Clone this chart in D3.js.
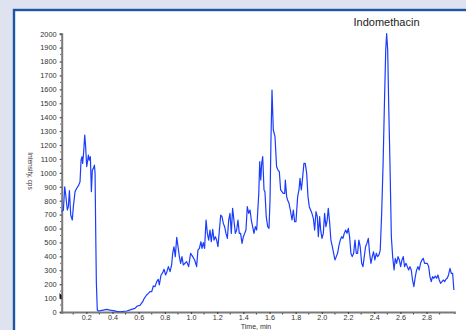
<!DOCTYPE html>
<html>
<head>
<meta charset="utf-8">
<script src="https://cdn.jsdelivr.net/npm/d3@7"></script>
<style>
  html, body { margin: 0; padding: 0; background: #dfe3f0; }
  svg { display: block; }
</style>
</head>
<body>
<svg id="chart" width="466" height="330"></svg>
<script>
// Extracted ion chromatogram: retention time (min) vs intensity (cps)
const title = "Indomethacin";
const xLabel = "Time, min";
const yLabel = "Intensity, cps";

const times = [
  0.012,0.025,0.035,0.043,0.055,0.063,0.071,0.081,0.093,0.101,0.114,0.127,0.142,0.152,0.160,0.167,0.172,0.180,0.188,0.195,
  0.203,0.211,0.216,0.223,0.231,0.239,0.246,0.254,0.262,0.267,0.272,0.277,0.284,0.292,0.330,0.356,0.381,0.407,0.432,0.458,
  0.509,0.547,0.572,0.590,0.610,0.631,0.643,0.661,0.674,0.687,0.700,0.712,0.725,0.738,0.750,0.758,0.771,0.784,0.794,0.806,
  0.814,0.827,0.840,0.852,0.860,0.870,0.880,0.891,0.901,0.911,0.921,0.931,0.941,0.954,0.967,0.982,0.997,1.013,1.028,1.043,
  1.053,1.064,1.076,1.084,1.094,1.104,1.115,1.125,1.135,1.145,1.155,1.166,1.176,1.186,1.196,1.206,1.217,1.227,1.237,1.247,
  1.257,1.267,1.278,1.288,1.298,1.308,1.318,1.328,1.339,1.349,1.359,1.369,1.379,1.390,1.400,1.410,1.420,1.430,1.441,1.451,
  1.461,1.471,1.481,1.492,1.502,1.518,1.525,1.533,1.540,1.548,1.558,1.565,1.575,1.586,1.596,1.604,1.611,1.619,1.629,1.642,
  1.654,1.665,1.675,1.685,1.695,1.705,1.716,1.721,1.731,1.738,1.749,1.759,1.772,1.782,1.792,1.802,1.815,1.825,1.833,1.843,
  1.851,1.863,1.873,1.884,1.894,1.904,1.914,1.924,1.935,1.945,1.955,1.965,1.973,1.983,1.991,2.001,2.011,2.021,2.031,2.041,
  2.049,2.059,2.069,2.080,2.090,2.100,2.110,2.120,2.131,2.141,2.151,2.161,2.171,2.182,2.192,2.202,2.212,2.222,2.232,2.243,
  2.253,2.263,2.273,2.283,2.293,2.304,2.314,2.324,2.334,2.344,2.355,2.365,2.375,2.385,2.395,2.405,2.416,2.426,2.436,2.446,
  2.457,2.468,2.477,2.488,2.495,2.503,2.511,2.521,2.531,2.541,2.552,2.561,2.571,2.582,2.592,2.602,2.612,2.622,2.632,2.643,
  2.653,2.663,2.673,2.683,2.693,2.703,2.714,2.724,2.734,2.744,2.754,2.765,2.775,2.785,2.795,2.805,2.816,2.826,2.836,2.846,
  2.856,2.867,2.877,2.887,2.897,2.907,2.918,2.928,2.938,2.948,2.958,2.968,2.979,2.989,2.999,3.009
];

const intensity = [
  721,733,900,841,733,757,872,697,661,757,865,889,912,936,1092,1116,1068,1152,1272,1188,
  1044,1092,1128,1092,1116,865,1020,1032,1056,996,565,206,14,7,14,19,14,10,5,2,
  7,19,26,43,48,74,98,122,134,146,146,187,182,218,235,194,266,283,307,266,
  283,326,290,338,422,469,398,536,469,398,350,398,338,350,362,326,422,398,374,326,
  445,457,505,457,498,457,661,565,517,589,505,594,517,541,517,469,589,697,685,637,
  613,565,529,661,709,565,745,661,565,589,661,565,565,493,541,565,589,757,709,733,
  661,613,565,613,589,853,1080,948,1068,1116,877,865,685,613,601,805,1236,1595,1308,1260,
  1044,1020,1008,877,865,853,853,948,829,805,781,733,661,733,649,649,829,877,960,877,
  948,1068,1068,996,829,757,733,709,673,589,721,685,541,685,589,529,565,709,613,661,
  745,649,517,469,422,374,398,422,481,517,541,529,565,589,565,601,541,422,398,422,
  517,422,422,517,469,350,326,398,469,493,529,422,350,398,433,374,422,398,410,445,
  709,1068,1451,1882,2000,1882,1475,1044,541,398,302,386,350,398,374,326,374,398,326,350,
  326,302,326,302,230,182,254,302,326,302,350,374,386,350,350,350,326,254,218,254,
  242,259,242,266,230,206,218,230,218,235,242,266,314,278,278,158
];

const yTicks = d3.range(0, 2001, 100);
const xTicks = [0.2,0.4,0.6,0.8,1.0,1.2,1.4,1.6,1.8,2.0,2.2,2.4,2.6,2.8];

const svg = d3.select("#chart");

// Framed white panel with a blue edge
svg.append("rect").attr("x", 14).attr("y", 10).attr("width", 460).attr("height", 330)
  .attr("fill", "#ffffff").attr("stroke", "#1f55a5").attr("stroke-width", 2.4);

const x = d3.scaleLinear().domain([0.012, 3.012]).range([61.7, 454.3]);
const y = d3.scaleLinear().domain([0, 2000]).range([312, 33.7]);

const tickFont = "'Liberation Sans', Arial, sans-serif";

// Y axis
const yAxis = svg.append("g").attr("transform", "translate(61.7,0)")
  .call(d3.axisLeft(y).tickValues(yTicks).tickSize(2).tickPadding(3).tickFormat(d3.format("d")));
yAxis.select(".domain").attr("stroke", "#7a7a7a").attr("stroke-width", 2);
yAxis.selectAll(".tick line").attr("stroke", "#444").attr("stroke-width", 1.2);
yAxis.selectAll(".tick text").attr("font-family", tickFont).attr("font-size", 7.4).attr("fill", "#333");

// minor y ticks
svg.append("g").selectAll("line").data(d3.range(50, 2000, 100)).join("line")
  .attr("x1", 60.2).attr("x2", 61).attr("y1", d => y(d)).attr("y2", d => y(d))
  .attr("stroke", "#444").attr("stroke-width", 1);

// X axis
const xAxis = svg.append("g").attr("transform", "translate(0,312)")
  .call(d3.axisBottom(x).tickValues(xTicks).tickSize(2).tickPadding(1).tickFormat(d3.format(".1f")));
xAxis.select(".domain").attr("stroke", "#7a7a7a").attr("stroke-width", 2);
xAxis.selectAll(".tick line").attr("stroke", "#444").attr("stroke-width", 1.2);
xAxis.selectAll(".tick text").attr("font-family", tickFont).attr("font-size", 7.2).attr("fill", "#333");

// minor x ticks
svg.append("g").selectAll("line").data(d3.range(0.1, 3.0, 0.2)).join("line")
  .attr("x1", d => x(d)).attr("x2", d => x(d)).attr("y1", 313).attr("y2", 314.5)
  .attr("stroke", "#444").attr("stroke-width", 1);

// Axis titles
svg.append("text").attr("x", 256).attr("y", 328.6).attr("text-anchor", "middle")
  .attr("font-family", tickFont).attr("font-size", 7).attr("fill", "#333").text(xLabel);
svg.append("text").attr("transform", "translate(27.5,171) rotate(90)").attr("text-anchor", "middle")
  .attr("font-family", tickFont).attr("font-size", 6.5).attr("fill", "#333").text(yLabel);

// Title
svg.append("text").attr("x", 386.5).attr("y", 25.5).attr("text-anchor", "middle")
  .attr("font-family", tickFont).attr("font-size", 11).attr("fill", "#222").text(title);

// Trace
const pts = times.map((t, i) => [t, intensity[i]]);
svg.append("path").datum(pts)
  .attr("fill", "none").attr("stroke", "#1a3cff").attr("stroke-width", 1.2)
  .attr("stroke-linejoin", "round")
  .attr("d", d3.line().x(d => x(d[0])).y(d => y(d[1])));

// Threshold marker on the intensity axis
svg.append("path").attr("d", `M59.5,${y(100) - 5} L61.5,${y(100) - 3} L61.5,${y(100) + 1} L59.5,${y(100)} Z`)
  .attr("fill", "#111");
</script>
</body>
</html>
